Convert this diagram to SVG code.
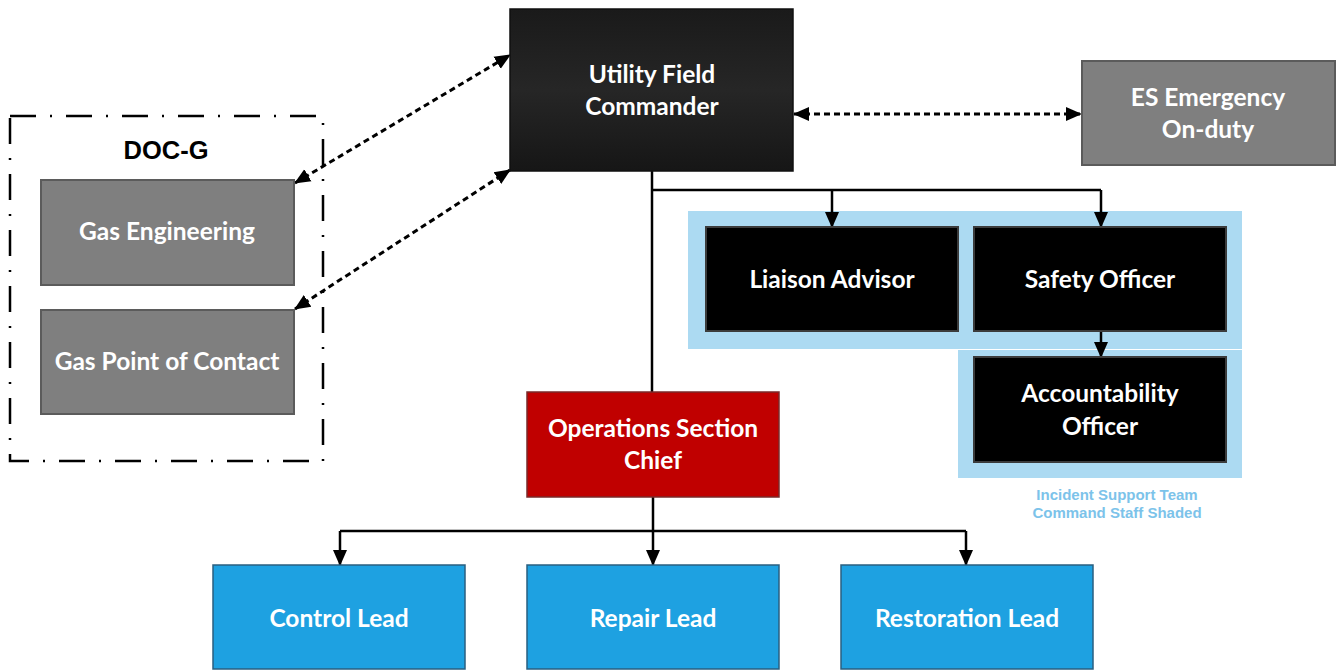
<svg xmlns="http://www.w3.org/2000/svg" width="1338" height="671" viewBox="0 0 1338 671">
  <style>
    .lbl { font-family: Lato, "Open Sans", "Liberation Sans", sans-serif; font-weight: 700; font-size: 24.5px; fill: #ffffff; text-anchor: middle; }
    .cap { font-family: "Liberation Sans", Arial, sans-serif; font-weight: 700; font-size: 15px; fill: #7cc3ea; text-anchor: middle; }
    .gray { fill: #7f7f7f; stroke: #5b5b5b; stroke-width: 2; }
    .blk { fill: #000000; stroke: #3c3c3c; stroke-width: 2; }
    .red { fill: #c00000; stroke: #7a2a2a; stroke-width: 1.5; }
    .blue { fill: #1ea1e1; stroke: #2a5f80; stroke-width: 1.5; }
    .shade { fill: #acdaf2; }
    .conn { fill: none; stroke: #000; stroke-width: 2.5; }
    .dot { fill: none; stroke: #000; stroke-width: 3; stroke-dasharray: 6 4; }
  </style>
  <defs>
    <marker id="arr" markerUnits="userSpaceOnUse" markerWidth="16" markerHeight="16" viewBox="0 0 16 16" refX="15" refY="8" orient="auto-start-reverse">
      <path d="M0,1 L16,8 L0,15 Z" fill="#000"/>
    </marker>
    <linearGradient id="ufcFill" x1="0" y1="0" x2="0" y2="1">
      <stop offset="0" stop-color="#1a1a1a"/>
      <stop offset="0.5" stop-color="#262626"/>
      <stop offset="1" stop-color="#161616"/>
    </linearGradient>
  </defs>

  <!-- shaded command staff areas -->
  <g id="command-staff-shade">
    <rect class="shade" x="688" y="211" width="554" height="138"/>
    <rect class="shade" x="958" y="350" width="284" height="128"/>
    <text class="cap" x="1117" y="500">Incident Support Team</text>
    <text class="cap" x="1117" y="518">Command Staff Shaded</text>
  </g>

  <!-- DOC-G grouping frame -->
  <g id="doc-g">
    <rect x="10" y="116" width="313" height="345" fill="none" stroke="#000" stroke-width="2.5" stroke-dasharray="26 14 2 14"/>
    <text x="166" y="159" font-family="'Liberation Sans', Arial, sans-serif" font-weight="700" font-size="25.5" fill="#000" text-anchor="middle">DOC-G</text>
  </g>

  <!-- connectors -->
  <g id="connectors">
    <path class="conn" d="M652,171 V392"/>
    <path class="conn" d="M652,190 H1101"/>
    <path class="conn" d="M832,190 V227" marker-end="url(#arr)"/>
    <path class="conn" d="M1101,190 V227" marker-end="url(#arr)"/>
    <path class="conn" d="M1101,331 V357" marker-end="url(#arr)"/>
    <path class="conn" d="M653,497 V565" marker-end="url(#arr)"/>
    <path class="conn" d="M340,531 H966"/>
    <path class="conn" d="M340,531 V565" marker-end="url(#arr)"/>
    <path class="conn" d="M966,531 V565" marker-end="url(#arr)"/>
    <path class="dot" d="M295,183 L510,55" marker-start="url(#arr)" marker-end="url(#arr)"/>
    <path class="dot" d="M295,309 L510,170" marker-start="url(#arr)" marker-end="url(#arr)"/>
    <path class="dot" d="M794,114 H1081" marker-start="url(#arr)" marker-end="url(#arr)"/>
  </g>

  <g id="utility-field-commander">
    <rect x="510" y="9" width="283" height="162" fill="url(#ufcFill)" stroke="#111" stroke-width="1.5"/>
    <text class="lbl" x="652" y="83">Utility Field</text>
    <text class="lbl" x="652" y="115">Commander</text>
  </g>

  <g id="es-emergency">
    <rect class="gray" x="1082" y="61" width="253" height="104"/>
    <text class="lbl" x="1208" y="106">ES Emergency</text>
    <text class="lbl" x="1208" y="138">On-duty</text>
  </g>

  <g id="gas-engineering">
    <rect class="gray" x="41" y="180" width="253" height="105"/>
    <text class="lbl" x="167" y="240">Gas Engineering</text>
  </g>

  <g id="gas-point-of-contact">
    <rect class="gray" x="41" y="310" width="253" height="104"/>
    <text class="lbl" x="167" y="370">Gas Point of Contact</text>
  </g>

  <g id="liaison-advisor">
    <rect class="blk" x="706" y="227" width="252" height="104"/>
    <text class="lbl" x="832" y="288">Liaison Advisor</text>
  </g>

  <g id="safety-officer">
    <rect class="blk" x="974" y="227" width="252" height="104"/>
    <text class="lbl" x="1100" y="288">Safety Officer</text>
  </g>

  <g id="accountability-officer">
    <rect class="blk" x="974" y="357" width="252" height="105"/>
    <text class="lbl" x="1100" y="402">Accountability</text>
    <text class="lbl" x="1100" y="435">Officer</text>
  </g>

  <g id="operations-section-chief">
    <rect class="red" x="527" y="392" width="252" height="105"/>
    <text class="lbl" x="653" y="437">Operations Section</text>
    <text class="lbl" x="653" y="469">Chief</text>
  </g>

  <g id="control-lead">
    <rect class="blue" x="213" y="565" width="252" height="104"/>
    <text class="lbl" x="339" y="627">Control Lead</text>
  </g>

  <g id="repair-lead">
    <rect class="blue" x="527" y="565" width="252" height="104"/>
    <text class="lbl" x="653" y="627">Repair Lead</text>
  </g>

  <g id="restoration-lead">
    <rect class="blue" x="841" y="565" width="252" height="104"/>
    <text class="lbl" x="967" y="627">Restoration Lead</text>
  </g>
</svg>
